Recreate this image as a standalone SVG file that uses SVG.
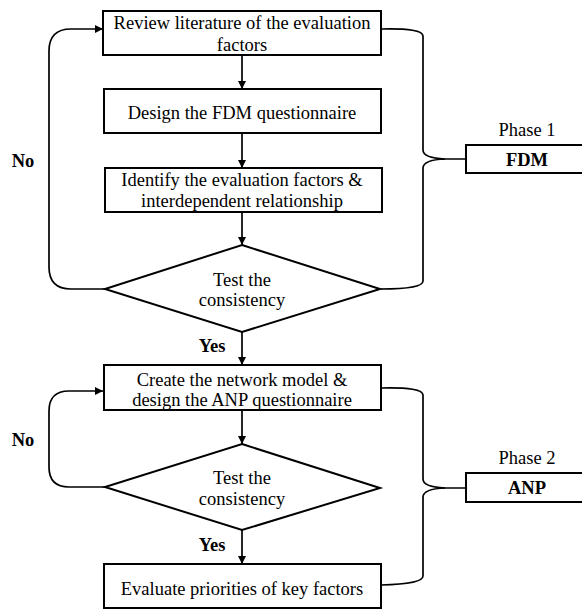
<svg xmlns="http://www.w3.org/2000/svg" width="582" height="610" viewBox="0 0 582 610">
  <defs>
    <marker id="arrow" viewBox="0 0 10 10" refX="10" refY="5" markerWidth="8" markerHeight="8" markerUnits="userSpaceOnUse" orient="auto">
      <path d="M0,0 L10,5 L0,10 z" fill="#000"/>
    </marker>
    <style>
      .box { fill: #fff; stroke: #000; stroke-width: 2; }
      .line { fill: none; stroke: #000; stroke-width: 1.7; }
      .txt { font-family: "Liberation Serif", "Times New Roman", serif; font-size: 18.5px; fill: #000; text-anchor: middle; }
      .bold { font-weight: bold; }
    </style>
  </defs>

  <!-- connectors -->
  <g id="connectors">
    <line class="line" x1="242" y1="55" x2="242" y2="89" marker-end="url(#arrow)"/>
    <line class="line" x1="242" y1="133" x2="242" y2="168" marker-end="url(#arrow)"/>
    <line class="line" x1="242" y1="212" x2="242" y2="245" marker-end="url(#arrow)"/>
    <line class="line" x1="242" y1="332" x2="242" y2="365" marker-end="url(#arrow)"/>
    <line class="line" x1="242" y1="410" x2="242" y2="444" marker-end="url(#arrow)"/>
    <line class="line" x1="242" y1="530" x2="242" y2="564" marker-end="url(#arrow)"/>
    <!-- feedback loops -->
    <path class="line" d="M105,289 L71,289 Q49,289 49,267 L49,51 Q49,29 71,29 L103,29" marker-end="url(#arrow)"/>
    <path class="line" d="M105,487 L69,487 Q49,487 49,467 L49,411 Q49,391 69,391 L103,391" marker-end="url(#arrow)"/>
    <!-- phase braces -->
    <path class="line" d="M381,29 Q423,28 423,36 L423,150 Q423,158 445,159 L466,159"/>
    <path class="line" d="M445,159 Q423,160 423,168 L423,281 Q423,289 381,289"/>
    <path class="line" d="M381,388 Q423,387 423,395 L423,479 Q423,487 445,488 L466,488"/>
    <path class="line" d="M445,488 Q423,489 423,497 L423,576 Q423,584 381,585"/>
  </g>

  <g id="review">
    <rect class="box" x="103" y="11" width="278" height="44"/>
    <text class="txt" x="242" y="29">Review literature of the evaluation</text>
    <text class="txt" x="242" y="51">factors</text>
  </g>
  <g id="design-fdm">
    <rect class="box" x="104" y="89" width="277" height="44"/>
    <text class="txt" x="242" y="119">Design the FDM questionnaire</text>
  </g>
  <g id="identify">
    <rect class="box" x="105" y="168" width="277" height="44"/>
    <text class="txt" x="242" y="186">Identify the evaluation factors &amp;</text>
    <text class="txt" x="242" y="207">interdependent relationship</text>
  </g>
  <g id="test1">
    <polygon class="box" points="242,245 380,289 242,332 105,289"/>
    <text class="txt" x="242" y="286">Test the</text>
    <text class="txt" x="242" y="306">consistency</text>
  </g>
  <g id="create-network">
    <rect class="box" x="104" y="365" width="277" height="45"/>
    <text class="txt" x="242" y="386">Create the network model &amp;</text>
    <text class="txt" x="242" y="406">design the ANP questionnaire</text>
  </g>
  <g id="test2">
    <polygon class="box" points="242,444 380,488 242,530 105,487"/>
    <text class="txt" x="242" y="484">Test the</text>
    <text class="txt" x="242" y="505">consistency</text>
  </g>
  <g id="evaluate">
    <rect class="box" x="104" y="564" width="277" height="44"/>
    <text class="txt" x="242" y="595">Evaluate priorities of key factors</text>
  </g>

  <g id="phase1">
    <text class="txt" x="527" y="136">Phase 1</text>
    <rect class="box" x="466" y="145" width="118" height="28"/>
    <text class="txt bold" x="527" y="166">FDM</text>
  </g>
  <g id="phase2">
    <text class="txt" x="527" y="464">Phase 2</text>
    <rect class="box" x="466" y="473" width="118" height="29"/>
    <text class="txt bold" x="527" y="494">ANP</text>
  </g>

  <g id="labels">
    <text class="txt bold" x="23" y="167">No</text>
    <text class="txt bold" x="212" y="352">Yes</text>
    <text class="txt bold" x="23" y="446">No</text>
    <text class="txt bold" x="212" y="551">Yes</text>
  </g>
</svg>
